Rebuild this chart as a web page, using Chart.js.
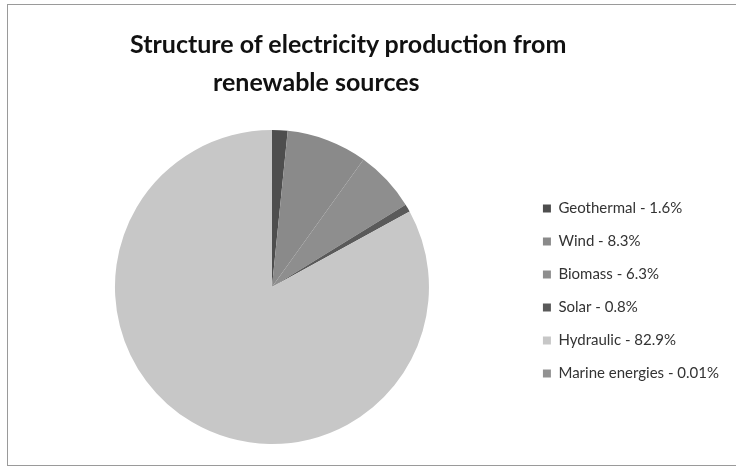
<!DOCTYPE html>
<html>
<head>
<meta charset="utf-8">
<script src="https://cdn.jsdelivr.net/npm/chart.js@4"></script>
<style>
  body { margin: 0; background: #fff; }
  #wrap { position: relative; width: 736px; height: 466px; overflow: hidden; }
  #frame { position: absolute; left: 7px; top: 4px; width: 740px; height: 460px; border: 1px solid #9a9a9a; }
  .title { position: absolute; font-family: Lato, sans-serif; font-weight: bold; font-size: 25px; color: #111; white-space: nowrap; }
  #t1 { left: 130px; top: 28px; }
  #t2 { left: 213px; top: 66px; }
  canvas { position: absolute; left: 0; top: 0; }
</style>
</head>
<body>
<div id="wrap">
  <div id="frame"></div>
  <canvas id="grafico" width="736" height="466"></canvas>
  <div class="title" id="t1">Structure of electricity production from</div>
  <div class="title" id="t2">renewable sources</div>
</div>
<script>
const sources = ['Geothermal', 'Wind', 'Biomass', 'Solar', 'Hydraulic', 'Marine energies'];
const shares = [1.6, 8.3, 6.3, 0.8, 82.9, 0.01];
const colori = ['#4e4e4e', '#8a8a8a', '#8e8e8e', '#5a5a5a', '#c7c7c7', '#929292'];

const ctx = document.getElementById('grafico').getContext('2d');
const grafico = new Chart(ctx, {
  type: 'pie',
  data: {
    labels: sources.map((s, i) => s + ' - ' + shares[i] + '%'),
    datasets: [{
      data: shares,
      backgroundColor: colori,
      borderWidth: 0
    }]
  },
  options: {
    responsive: false,
    animation: false,
    layout: { padding: { left: 19, right: 7, top: 130, bottom: 22 } },
    plugins: {
      tooltip: { enabled: false },
      legend: {
        position: 'right',
        // empty title only to push the list down a few pixels
        title: { display: true, text: ' ', font: { size: 0 }, padding: { top: 4, bottom: 4 } },
        labels: {
          boxWidth: 8,
          boxHeight: 8,
          padding: 18,
          color: '#333',
          font: { family: 'Lato', size: 15 }
        }
      }
    }
  }
});
</script>
</body>
</html>
